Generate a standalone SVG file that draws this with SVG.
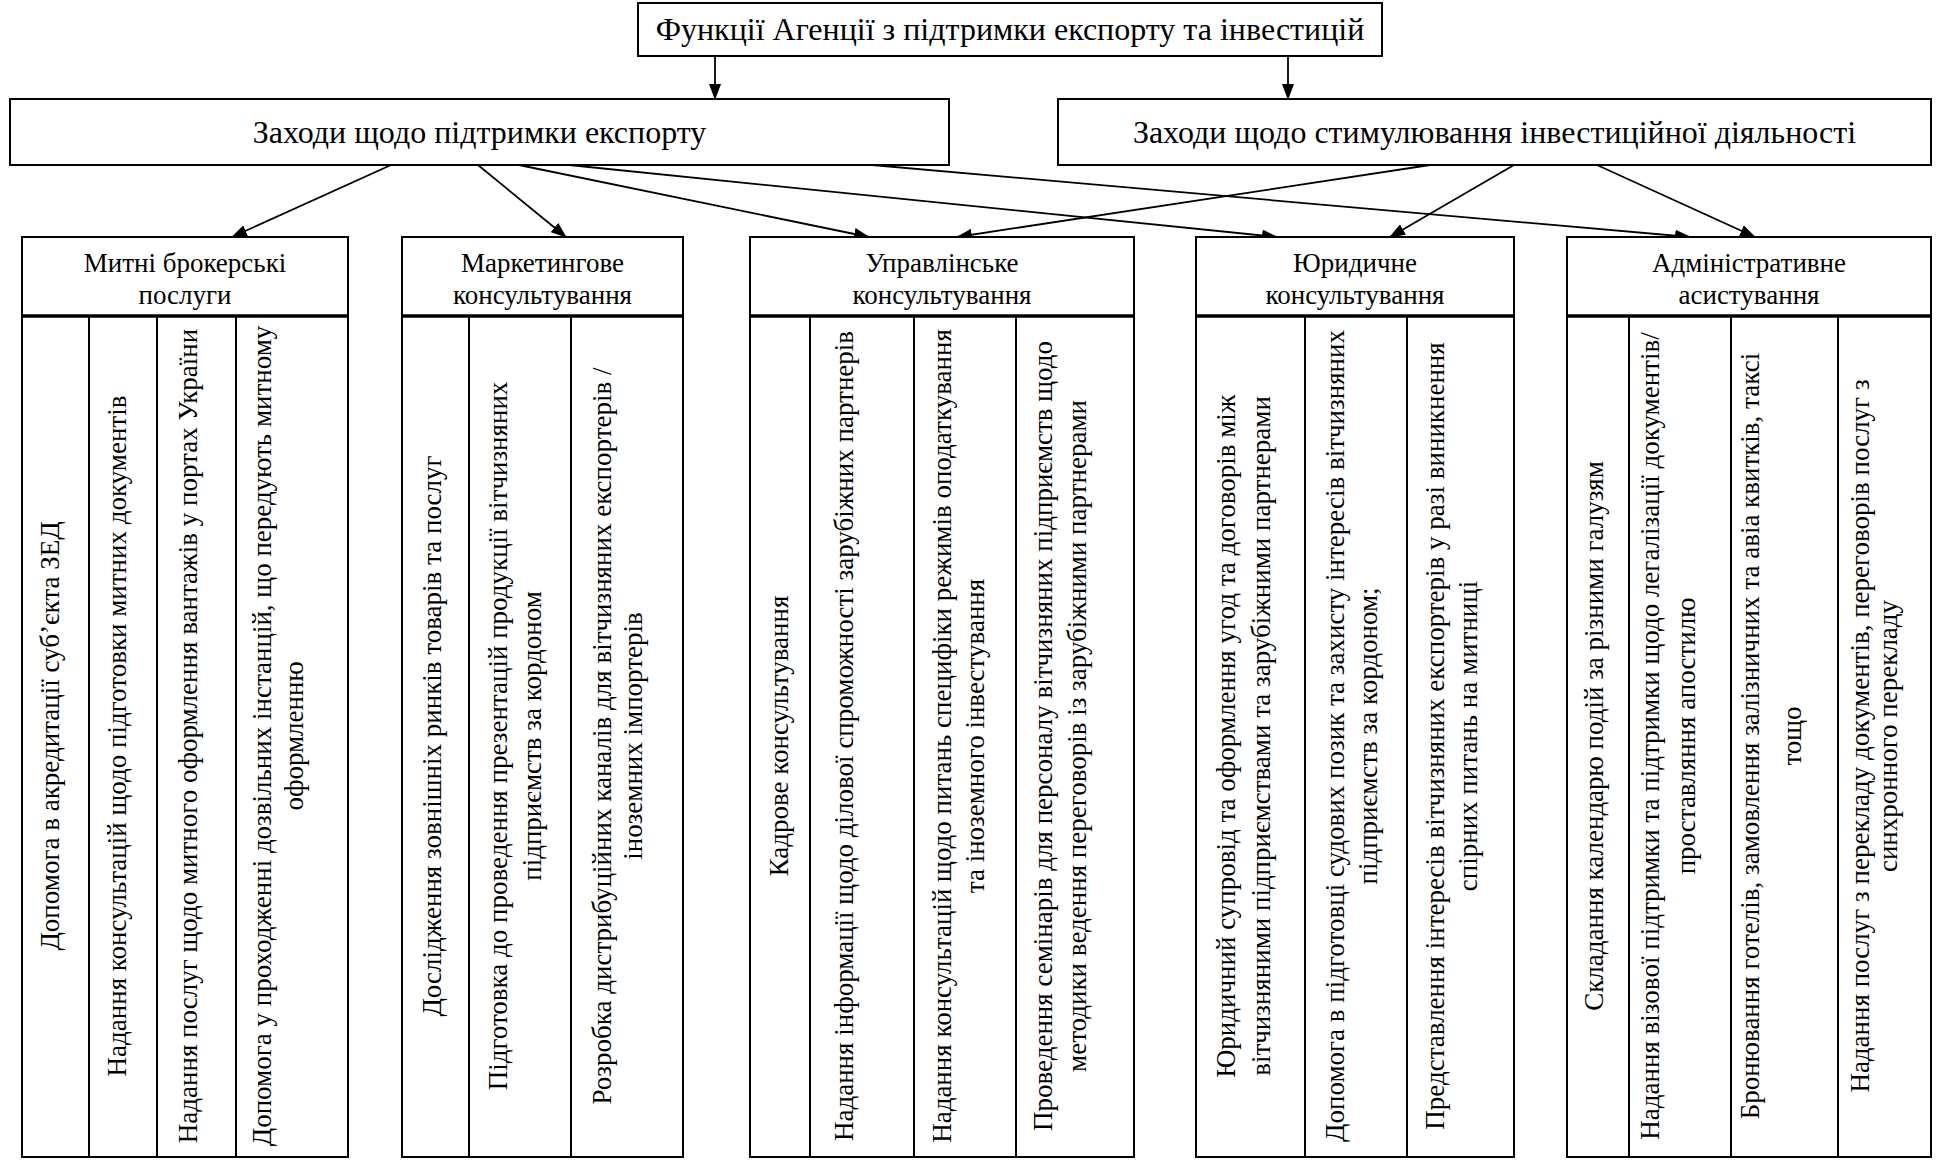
<svg xmlns="http://www.w3.org/2000/svg" width="1939" height="1160" viewBox="0 0 1939 1160">
<style>
  .box { fill: #fff; stroke: #000; stroke-width: 2; }
  .sep { stroke: #000; stroke-width: 3.5; }
  .div { stroke: #000; stroke-width: 2; }
  .con { stroke: #000; stroke-width: 1.8; fill: none; marker-end: url(#arr); }
  text { font-family: "Liberation Serif", "Times New Roman", serif; fill: #000; text-anchor: middle; }
  .t1 { font-size: 32px; }
  .t2 { font-size: 27px; }
  .v { font-size: 27px; }
</style>
<defs>
  <marker id="arr" markerWidth="16" markerHeight="12" refX="15" refY="6" orient="auto" markerUnits="userSpaceOnUse">
    <path d="M0,0 L16,6 L0,12 z" fill="#000"/>
  </marker>
</defs>
<rect width="1939" height="1160" fill="#fff"/>

<g id="connectors">
  <path class="con" d="M715,56 L715,99"/>
  <path class="con" d="M1288,56 L1288,99"/>
  <path class="con" d="M391,165 L232,237"/>
  <path class="con" d="M478,165 L566,237"/>
  <path class="con" d="M519,165 L869,237"/>
  <path class="con" d="M569,165 L1277,237"/>
  <path class="con" d="M872,165 L1690,237"/>
  <path class="con" d="M1430,165 L957,237"/>
  <path class="con" d="M1514,165 L1390,237"/>
  <path class="con" d="M1597,165 L1755,237"/>
</g>

<g id="root">
  <rect class="box" x="638" y="3" width="744" height="53"/>
  <text class="t1" x="1010" y="40">Функції Агенції з підтримки експорту та інвестицій</text>
</g>

<g id="export">
  <rect class="box" x="10" y="99" width="939" height="66"/>
  <text class="t1" x="479.5" y="143">Заходи щодо підтримки експорту</text>
</g>

<g id="invest">
  <rect class="box" x="1058" y="99" width="873" height="66"/>
  <text class="t1" x="1494.5" y="143">Заходи щодо стимулювання інвестиційної діяльності</text>
</g>

<g id="customs">
  <rect class="box" x="22" y="237" width="326" height="920"/>
  <line class="sep" x1="22" y1="316" x2="348" y2="316"/>
  <line class="div" x1="89" y1="316" x2="89" y2="1157"/>
  <line class="div" x1="157" y1="316" x2="157" y2="1157"/>
  <line class="div" x1="236" y1="316" x2="236" y2="1157"/>
  <text class="t2" x="185" y="272">Митні брокерські</text>
  <text class="t2" x="185" y="304">послуги</text>
  <text class="v" transform="translate(59,736) rotate(-90)">Допомога в акредитації суб’єкта ЗЕД</text>
  <text class="v" transform="translate(126,736) rotate(-90)">Надання консультацій щодо підготовки митних документів</text>
  <text class="v" transform="translate(197,736) rotate(-90)">Надання послуг щодо митного оформлення вантажів у портах України</text>
  <text class="v" transform="translate(271,736) rotate(-90)"><tspan x="0" y="0">Допомога у проходженні дозвільних інстанцій, що передують митному</tspan><tspan x="0" y="32">оформленню</tspan></text>
</g>

<g id="marketing">
  <rect class="box" x="402" y="237" width="281" height="920"/>
  <line class="sep" x1="402" y1="316" x2="683" y2="316"/>
  <line class="div" x1="469" y1="316" x2="469" y2="1157"/>
  <line class="div" x1="571" y1="316" x2="571" y2="1157"/>
  <text class="t2" x="542.5" y="272">Маркетингове</text>
  <text class="t2" x="542.5" y="304">консультування</text>
  <text class="v" transform="translate(441,736) rotate(-90)">Дослідження зовнішніх ринків товарів та послуг</text>
  <text class="v" transform="translate(507,736) rotate(-90)"><tspan x="0" y="0">Підготовка до проведення презентацій продукції вітчизняних</tspan><tspan x="0" y="34">підприємств за кордоном</tspan></text>
  <text class="v" transform="translate(611,736) rotate(-90)"><tspan x="0" y="0">Розробка дистрибуційних каналів для вітчизняних експортерів /</tspan><tspan x="0" y="31">іноземних імпортерів</tspan></text>
</g>

<g id="management">
  <rect class="box" x="750" y="237" width="384" height="920"/>
  <line class="sep" x1="750" y1="316" x2="1134" y2="316"/>
  <line class="div" x1="810" y1="316" x2="810" y2="1157"/>
  <line class="div" x1="914" y1="316" x2="914" y2="1157"/>
  <line class="div" x1="1016" y1="316" x2="1016" y2="1157"/>
  <text class="t2" x="942" y="272">Управлінське</text>
  <text class="t2" x="942" y="304">консультування</text>
  <text class="v" transform="translate(788,736) rotate(-90)">Кадрове консультування</text>
  <text class="v" transform="translate(853,736) rotate(-90)">Надання інформації щодо ділової спроможності зарубіжних партнерів</text>
  <text class="v" transform="translate(951,736) rotate(-90)"><tspan x="0" y="0">Надання консультацій щодо питань специфіки режимів оподаткування</tspan><tspan x="0" y="33">та іноземного інвестування</tspan></text>
  <text class="v" transform="translate(1052,736) rotate(-90)"><tspan x="0" y="0">Проведення семінарів для персоналу вітчизняних підприємств щодо</tspan><tspan x="0" y="34">методики ведення переговорів із зарубіжними партнерами</tspan></text>
</g>

<g id="legal">
  <rect class="box" x="1196" y="237" width="318" height="920"/>
  <line class="sep" x1="1196" y1="316" x2="1514" y2="316"/>
  <line class="div" x1="1305" y1="316" x2="1305" y2="1157"/>
  <line class="div" x1="1407" y1="316" x2="1407" y2="1157"/>
  <text class="t2" x="1355" y="272">Юридичне</text>
  <text class="t2" x="1355" y="304">консультування</text>
  <text class="v" transform="translate(1235,736) rotate(-90)"><tspan x="0" y="0">Юридичний супровід та оформлення угод та договорів між</tspan><tspan x="0" y="35">вітчизняними підприємствами та зарубіжними партнерами</tspan></text>
  <text class="v" transform="translate(1344,736) rotate(-90)"><tspan x="0" y="0">Допомога в підготовці судових позик та захисту інтересів вітчизняних</tspan><tspan x="0" y="33">підприємств за кордоном;</tspan></text>
  <text class="v" transform="translate(1444,736) rotate(-90)"><tspan x="0" y="0">Представлення інтересів вітчизняних експортерів у разі виникнення</tspan><tspan x="0" y="33">спірних питань на митниці</tspan></text>
</g>

<g id="admin">
  <rect class="box" x="1567" y="237" width="364" height="920"/>
  <line class="sep" x1="1567" y1="316" x2="1931" y2="316"/>
  <line class="div" x1="1629" y1="316" x2="1629" y2="1157"/>
  <line class="div" x1="1731" y1="316" x2="1731" y2="1157"/>
  <line class="div" x1="1838" y1="316" x2="1838" y2="1157"/>
  <text class="t2" x="1749" y="272">Адміністративне</text>
  <text class="t2" x="1749" y="304">асистування</text>
  <text class="v" transform="translate(1603,736) rotate(-90)">Складання календарю подій за різними галузям</text>
  <text class="v" transform="translate(1659,736) rotate(-90)"><tspan x="0" y="0">Надання візової підтримки та підтримки щодо легалізації документів/</tspan><tspan x="0" y="36">проставляння апостилю</tspan></text>
  <text class="v" transform="translate(1759,736) rotate(-90)"><tspan x="0" y="0">Бронювання готелів, замовлення залізничних та авіа квитків, таксі</tspan><tspan x="0" y="42">тощо</tspan></text>
  <text class="v" transform="translate(1869,736) rotate(-90)"><tspan x="0" y="0">Надання послуг з перекладу документів, переговорів послуг з</tspan><tspan x="0" y="28">синхронного перекладу</tspan></text>
</g>
</svg>
